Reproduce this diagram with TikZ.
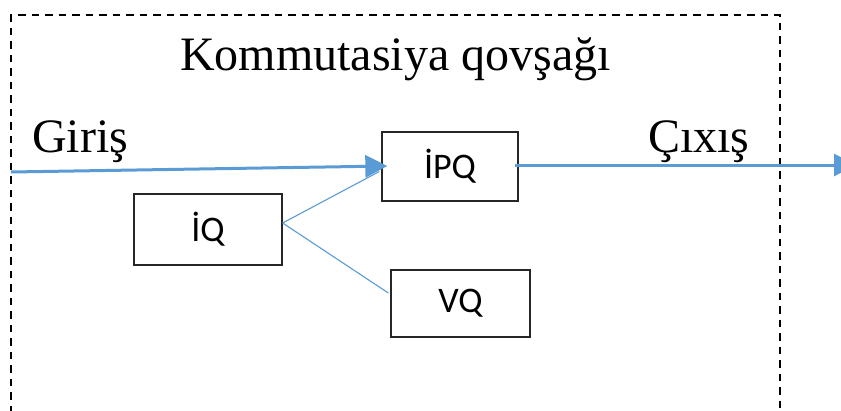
\documentclass[tikz,border=0pt]{standalone}
\usepackage{fontspec}
\setmainfont{Liberation Serif}
\newfontfamily\boxfont{Carlito}
\usetikzlibrary{arrows.meta}
\definecolor{linkblue}{RGB}{91,155,213}
\tikzset{
  x=1pt, y=-1pt,
  frame/.style={draw=black, line width=1.6pt, dash pattern=on 7.5pt off 6pt},
  unit/.style={draw=black!85, line width=1.3pt, fill=white, inner sep=0pt,
    font=\boxfont\fontsize{36}{40}\selectfont},
  label/.style={inner sep=0pt, anchor=base, font=\fontsize{48}{56}\selectfont},
  flow/.style={draw=linkblue, line width=3pt,
    -{Triangle[length=22pt 0 0,width=22pt 0 0]}},
  branch/.style={draw=linkblue, line width=1.1pt}
}
\begin{document}
\begin{tikzpicture}
\useasboundingbox (0,0) rectangle (841,410);
% switching circuit boundary (runs past the lower edge)
\draw[frame] (11,440) -- (11,15) -- (780,15) -- (780,440);
\node[label] (title) at (395.5,70) {Kommutasiya qovşağı};
\node[label, anchor=base west] (inlabel) at (32,152) {Giriş};
\node[label, anchor=base west] (outlabel) at (648,152) {Çıxış};
% units
\node[unit, minimum width=136pt, minimum height=69pt] (ipq) at (450,166.5) {İPQ};
\node[unit, minimum width=148pt, minimum height=71pt] (iq) at (208,229.5) {İQ};
\node[unit, minimum width=139pt, minimum height=67pt] (vq) at (460.5,303.5) {VQ};
% signal flow
\coordinate (in) at (11,172);
\coordinate (out) at (856,165);
\coordinate (iqout) at ([yshift=6.5pt]iq.east);
\draw[branch] (iqout) -- ([xshift=-2pt,yshift=-5pt]ipq.west);
\draw[branch] (iqout) -- ([xshift=-2pt,yshift=10.5pt]vq.west);
\draw[flow] (in) -- ([xshift=6pt,yshift=0.5pt]ipq.west);
\draw[flow] ([xshift=-4pt,yshift=1.5pt]ipq.east) -- (out);
\end{tikzpicture}
\end{document}
